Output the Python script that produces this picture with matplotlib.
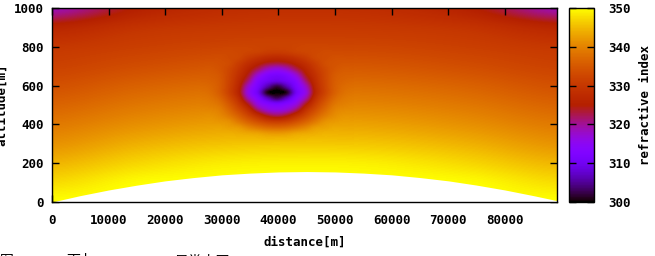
import numpy as np
import matplotlib
matplotlib.use("Agg")
import matplotlib.pyplot as plt
from matplotlib.patches import Rectangle

plt.rcParams['font.family'] = ['DejaVu Sans Mono']
plt.rcParams['font.weight'] = 'bold'

# range of the axes
x_max = 89200
y_max = 1000

# background refractive index
# rows: altitude 0,100,...,1000 m ; columns: distance 0 .. 89200 m (7 nodes)
bg_x = [0, 14867, 29733, 44600, 59467, 74333, 89200]
bg_y = [0, 100, 200, 300, 400, 500, 600, 700, 800, 900, 1000]
bg_n = [
    [350.0, 350.0, 350.0, 350.0, 350.0, 350.0, 350.0],
    [347.5, 349.7, 350.0, 350.0, 350.0, 349.7, 347.7],
    [344.5, 347.1, 348.7, 349.1, 348.7, 347.1, 344.7],
    [341.5, 344.1, 345.7, 346.2, 345.7, 344.1, 341.7],
    [339.0, 341.2, 342.7, 343.2, 342.7, 341.2, 339.1],
    [336.5, 338.7, 340.0, 340.4, 340.0, 338.7, 336.6],
    [334.0, 336.2, 337.5, 337.9, 337.5, 336.2, 334.1],
    [331.8, 333.5, 334.8, 335.2, 334.8, 333.5, 331.9],
    [330.0, 331.3, 332.3, 332.6, 332.3, 331.3, 330.1],
    [326.3, 329.2, 330.2, 330.4, 330.2, 329.2, 326.5],
    [318.5, 325.2, 328.0, 328.6, 328.0, 325.2, 318.8],
]

# anomaly (low refractivity bubble) around x=39700 m, y=565 m
anom_xc, anom_dx = 39700, 1700     # 17 columns, -8..8
anom_yc, anom_dy = 565, 30         # 19 rows, -9..9
# background value on each anomaly row (295 .. 835 m)
anom_base = [346.15, 345.28, 344.38, 343.48, 342.62, 341.79, 340.96, 340.15, 339.4, 338.65,
             337.9, 337.1, 336.29, 335.47, 334.68, 333.91, 333.14, 332.39, 331.74]
# small change of the background across the columns (ground curvature)
anom_tilt = [-0.65, -0.52, -0.42, -0.32, -0.23, -0.16, -0.09, -0.04, 0.0,
             0.03, 0.04, 0.05, 0.04, 0.02, -0.01, -0.05, -0.11]
# drop of the index, one quarter (centre row/col first), mirrored below
anom_q = [
    [38.6, 37.6, 28.4, 22.3, 12.3, 6.6, 2.6, 0.6, 0.0],
    [36.0, 32.1, 26.2, 20.1, 11.0, 5.8, 2.1, 0.5, 0.0],
    [28.1, 26.7, 23.5, 15.8, 9.2, 4.7, 1.5, 0.4, 0.0],
    [24.7, 23.4, 19.0, 12.1, 7.4, 3.7, 1.0, 0.2, 0.0],
    [19.1, 17.3, 13.2, 9.2, 5.5, 2.6, 0.8, 0.0, 0.0],
    [11.7, 10.9, 8.7, 6.2, 3.5, 1.1, 0.4, 0.0, 0.0],
    [6.5, 6.0, 4.7, 3.1, 1.2, 0.6, 0.0, 0.0, 0.0],
    [2.3, 2.0, 1.2, 0.8, 0.4, 0.0, 0.0, 0.0, 0.0],
    [0.5, 0.5, 0.3, 0.1, 0.0, 0.0, 0.0, 0.0, 0.0],
    [0.0, 0.0, 0.0, 0.0, 0.0, 0.0, 0.0, 0.0, 0.0],
]

# earth surface (white area)
ground_x = [0, 5000, 10000, 15000, 20000, 25000, 30000, 35000, 40000, 45000,
            50000, 55000, 60000, 65000, 70000, 75000, 80000, 85000, 89200]
ground_h = [0, 33, 62, 87, 109, 126, 140, 149, 155, 157,
            155, 149, 140, 126, 109, 87, 62, 33, 7]

xticks = [0, 10000, 20000, 30000, 40000, 50000, 60000, 70000, 80000]
yticks = [0, 200, 400, 600, 800, 1000]
cticks = [300, 310, 320, 330, 340, 350]

# ------------------------------------------------------------
fig = plt.figure(figsize=(6.55, 2.56), dpi=100)
ax = fig.add_axes([52/655, 54/256, 505/655, 194/256])
cax = fig.add_axes([569/655, 54/256, 25/655, 194/256])

# background layer
ddx = bg_x[1] - bg_x[0]
ddy = bg_y[1] - bg_y[0]
im = ax.imshow(np.array(bg_n), origin='lower', cmap='gnuplot', vmin=300, vmax=350,
               extent=[bg_x[0]-ddx/2, bg_x[-1]+ddx/2, bg_y[0]-ddy/2, bg_y[-1]+ddy/2],
               aspect='auto', interpolation='catrom', interpolation_stage='data')

# anomaly layer
q = np.array(anom_q)
d = np.vstack([q[:0:-1], q])
d = np.hstack([d[:, :0:-1], d])
anom = np.array(anom_base)[:, None] + np.array(anom_tilt)[None, :] - d
nx = d.shape[1] // 2
ny = d.shape[0] // 2
im2 = ax.imshow(anom, origin='lower', cmap='gnuplot', vmin=300, vmax=350,
                extent=[anom_xc-(nx+0.5)*anom_dx, anom_xc+(nx+0.5)*anom_dx,
                        anom_yc-(ny+0.5)*anom_dy, anom_yc+(ny+0.5)*anom_dy],
                aspect='auto', interpolation='catrom', interpolation_stage='data')
# keep only the part between the outer nodes (no clamped border)
clip = Rectangle((anom_xc-nx*anom_dx, anom_yc-ny*anom_dy), 2*nx*anom_dx, 2*ny*anom_dy,
                 transform=ax.transData)
im2.set_clip_path(clip)

ax.fill_between(ground_x, -20, ground_h, color='white', lw=0, zorder=3)

ax.set_xlim(0, x_max)
ax.set_ylim(0, y_max)
ax.set_xticks(xticks)
ax.set_yticks(yticks)
ax.tick_params(axis='both', direction='in', top=True, right=True, length=5,
               width=1, labelsize=9, colors='black')
ax.tick_params(axis='x', pad=9)
ax.tick_params(axis='y', pad=6)
for s in ax.spines.values():
    s.set_linewidth(1)
    s.set_zorder(5)
ax.set_xlabel('distance[m]', fontsize=9, labelpad=6, fontweight='bold')
fig.text(2/655, 0.59, 'altitude[m]', rotation=90, ha='center', va='center',
         fontsize=9, fontweight='bold')

cb = fig.colorbar(im, cax=cax, ticks=cticks)
cb.outline.set_linewidth(1)
cax.tick_params(direction='in', left=True, right=True, length=5, width=1,
                labelsize=9, pad=10)
cax.set_ylabel('refractive index', fontsize=9, labelpad=6, fontweight='bold')

for lab in ax.get_xticklabels() + ax.get_yticklabels() + cax.get_yticklabels():
    lab.set_fontweight('bold')

# caption (cut off at the bottom of the image)
cap_font = ['Noto Sans CJK SC', 'DejaVu Sans']
cap_y = 1.5/256
fig.text(0.0, cap_y, '图', family=cap_font, fontsize=10, va='top', ha='left', weight='normal')
fig.text(66/655, cap_y, '下卜', family=cap_font, fontsize=10, va='top', ha='left', weight='normal')
fig.text(174/655, cap_y, '异常大图', family=cap_font, fontsize=10, va='top', ha='left', weight='normal')

fig.savefig('out.png', dpi=100)
